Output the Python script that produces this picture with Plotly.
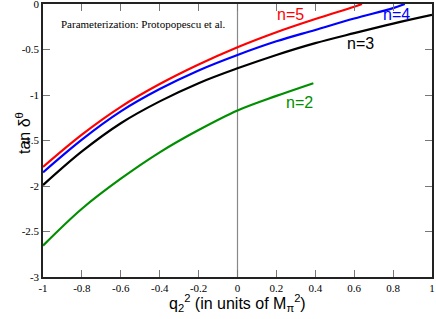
import plotly.graph_objects as go

# q2^2 values and tan(delta) readings for each n
x_n5 = [-1.0, -0.8, -0.6, -0.4, -0.2, 0.0, 0.2, 0.4, 0.6, 0.64]
y_n5 = [-1.79, -1.435, -1.13, -0.88, -0.665, -0.475, -0.31, -0.165, -0.03, 0.0]

x_n4 = [-1.0, -0.8, -0.6, -0.4, -0.2, 0.0, 0.2, 0.4, 0.6, 0.8, 0.86]
y_n4 = [-1.85, -1.49, -1.18, -0.935, -0.73, -0.56, -0.41, -0.285, -0.16, -0.045, 0.0]

x_n3 = [-1.0, -0.8, -0.6, -0.4, -0.2, 0.0, 0.2, 0.4, 0.6, 0.8, 1.0]
y_n3 = [-1.99, -1.62, -1.31, -1.07, -0.87, -0.707, -0.56, -0.43, -0.32, -0.215, -0.12]

x_n2 = [-1.0, -0.8, -0.6, -0.4, -0.2, 0.0, 0.2, 0.39]
y_n2 = [-2.655, -2.25, -1.92, -1.63, -1.385, -1.17, -1.01, -0.87]

x_ticks = [-1, -0.8, -0.6, -0.4, -0.2, 0, 0.2, 0.4, 0.6, 0.8, 1]
x_tick_text = ["-1", "-0.8", "-0.6", "-0.4", "-0.2", "0", "0.2", "0.4", "0.6", "0.8", "1"]
y_ticks = [-3, -2.5, -2, -1.5, -1, -0.5, 0]
y_tick_text = ["-3", "-2.5", "-2", "-1.5", "-1", "-0.5", "0"]

labels = ["n=5", "n=4", "n=3", "n=2"]
colors = ["#ff0000", "#0000ff", "#000000", "#008f00"]
label_x = [0.273, 0.82, 0.63, 0.32]
label_y = [-0.12, -0.12, -0.43, -1.08]

SERIF = "Liberation Serif, Times New Roman, DejaVu Serif, serif"
SANS = "Liberation Sans, Arial, Helvetica, sans-serif"

fig = go.Figure()
fig.add_shape(type="line", x0=0, x1=0, y0=-3, y1=0, xref="x", yref="y",
              line=dict(color="#888888", width=1.2), layer="below")

for name, xs, ys, col, lx, ly in zip(labels, [x_n5, x_n4, x_n3, x_n2], [y_n5, y_n4, y_n3, y_n2],
                                     colors, label_x, label_y):
    fig.add_trace(go.Scatter(x=xs, y=ys, mode="lines",
                             line=dict(color=col, width=2.2, shape="spline", smoothing=1.0),
                             name=name, showlegend=False, hoverinfo="skip"))
    fig.add_annotation(x=lx, y=ly, text=name, showarrow=False,
                       font=dict(family=SANS, size=16, color=col))

fig.add_annotation(x=(59 - 43) / 389, xref="paper", y=-0.22, yref="y", xanchor="left",
                   text="Parameterization: Protopopescu et al.", showarrow=False,
                   font=dict(family=SERIF, size=11, color="black"))

axis_common = dict(showline=True, linecolor="#222222", linewidth=1.5, mirror="ticks",
                   ticks="inside", ticklen=7, tickcolor="#777777", tickwidth=1.2,
                   showgrid=False, zeroline=False, automargin=False,
                   ticklabeloverflow="allow",
                   tickfont=dict(family=SERIF, size=11, color="black"))

fig.update_layout(
    width=436, height=319,
    margin=dict(l=43, r=4, t=4, b=42),
    paper_bgcolor="white", plot_bgcolor="white",
    xaxis=dict(range=[-1, 1], tickvals=x_ticks, ticktext=x_tick_text, **axis_common),
    yaxis=dict(range=[-3, 0], tickvals=y_ticks, ticktext=y_tick_text, **axis_common),
)

fig.add_annotation(x=(237 - 43) / 389, xref="paper", y=-(303 - 277) / 273, yref="paper",
                   text="q<sub>2</sub><sup>2</sup> (in units of M<sub>π</sub><sup>2</sup>)",
                   showarrow=False, yanchor="middle",
                   font=dict(family=SANS, size=16, color="black"))
fig.add_annotation(x=-(43 - 11) / 389, xref="paper", y=(277 - 133) / 273, yref="paper",
                   text="tan δ<sup>θ</sup>", textangle=-90, showarrow=False,
                   font=dict(family=SANS, size=16, color="black"))

fig.write_html("out.html", config={"displayModeBar": False},
               post_script="document.body.style.margin='0';")
